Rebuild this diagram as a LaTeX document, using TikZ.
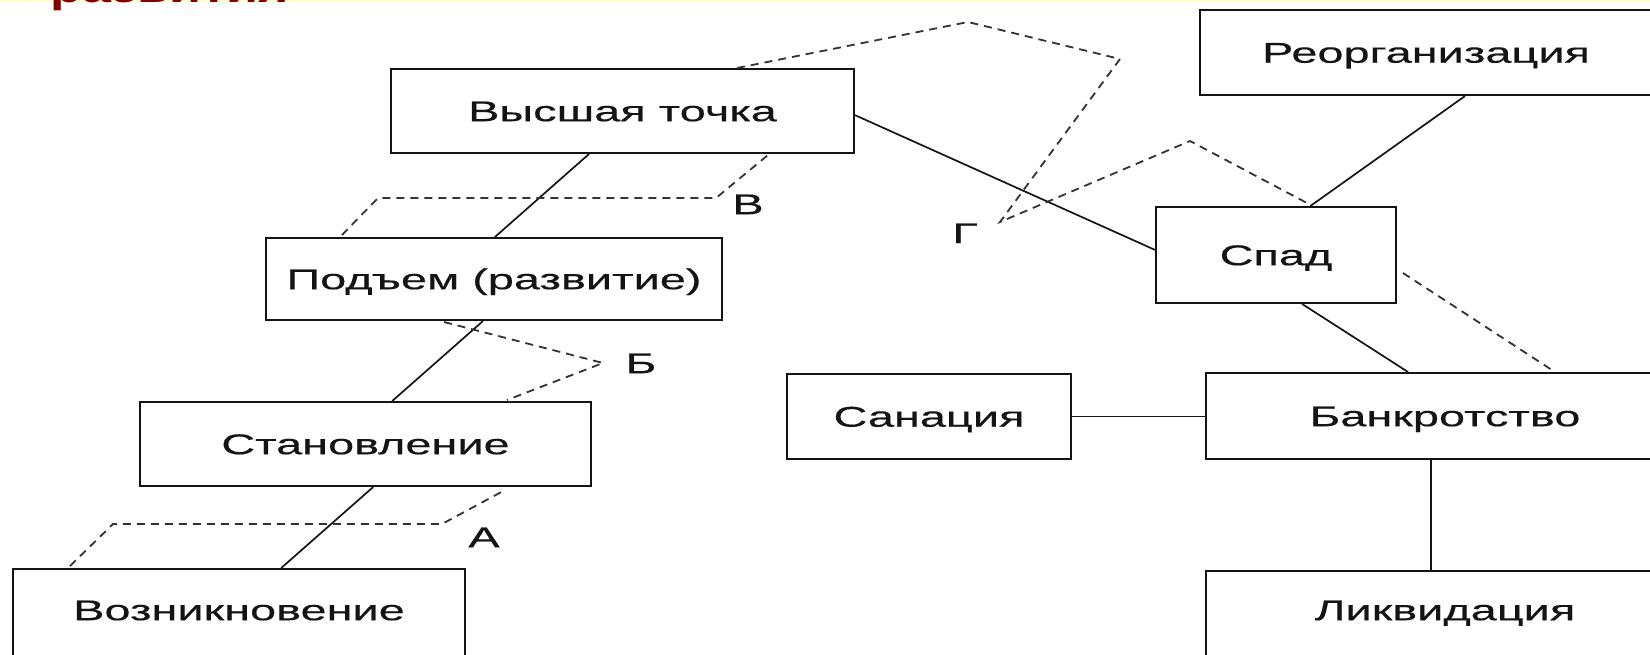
\documentclass[tikz,border=0pt]{standalone}
\usepackage{fontspec}
\setmainfont[FakeStretch=1.64,FakeBold=0.4]{Liberation Sans}
\newfontfamily\titlefont[FakeStretch=1.3]{Liberation Sans}
\usetikzlibrary{calc}
\definecolor{txt}{rgb}{0.08,0.08,0.08}
\definecolor{dash}{rgb}{0.2,0.2,0.2}
\definecolor{titlered}{rgb}{0.5,0,0}
\definecolor{band}{rgb}{1,1,0.8}
\tikzset{
  box/.style={draw=txt, line width=1pt, inner sep=0pt, text=txt,
    font=\fontsize{14.3pt}{17pt}\selectfont, text height=10.2pt, text depth=0pt},
  lbl/.style={inner sep=0pt, text=txt, font=\fontsize{14.3pt}{17pt}\selectfont,
    text height=10.2pt, text depth=0pt},
  link/.style={draw=txt, line width=0.85pt},
  dashlink/.style={draw=dash, line width=0.9pt, dash pattern=on 4pt off 3pt}
}
\begin{document}
\begin{tikzpicture}[x=0.5pt,y=-0.5pt]
\useasboundingbox (0,0) rectangle (1650,654);
\clip (0,0) rectangle (1650,654);
\fill[white] (0,0) rectangle (1650,654);
\fill[band] (0,0) rectangle (1650,2);
\node[anchor=base west, inner sep=0pt, text=titlered,
  font=\titlefont\bfseries\fontsize{20pt}{24pt}\selectfont] (title) at (50,2) {развития};

% boxes
\node[box, minimum width=231.5pt, minimum height=42pt] (top) at (622.5,111) {Высшая точка};
\node[box, minimum width=228pt, minimum height=41pt] (rise) at (494,279) {Подъем (развитие)};
\node[box, minimum width=225.5pt, minimum height=42pt] (form) at (365.5,444) {Становление};
\node[box, minimum width=226pt, minimum height=45.5pt] (birth) at (239,614.5) {\raisebox{2.25pt}{Возникновение}};
\node[box, minimum width=226pt, minimum height=42.5pt] (reorg) at (1426,52.5) {Реорганизация};
\node[box, minimum width=120pt, minimum height=48pt] (spad) at (1276,255) {Спад};
\node[box, minimum width=142pt, minimum height=42.5pt] (san) at (929,416.5) {Санация};
\node[box, minimum width=239pt, minimum height=43pt] (bank) at (1445,416) {Банкротство};
\node[box, minimum width=239pt, minimum height=47pt] (liq) at (1445,618) {\raisebox{4pt}{Ликвидация}};

% solid connectors
\draw[link] ($(top.south west)!0.428!(top.south east)$) -- ($(rise.north west)!0.502!(rise.north east)$);
\draw[link] ($(rise.south west)!0.476!(rise.south east)$) -- ($(form.north west)!0.559!(form.north east)$);
\draw[link] ($(form.south west)!0.517!(form.south east)$) -- ($(birth.north west)!0.593!(birth.north east)$);
\draw[link] ($(top.north east)!0.548!(top.south east)$) -- ($(spad.north west)!0.448!(spad.south west)$);
\draw[link] ($(reorg.south west)!0.586!(reorg.south east)$) -- ($(spad.north west)!0.642!(spad.north east)$);
\draw[link] ($(spad.south west)!0.608!(spad.south east)$) -- ($(bank.north west)!0.423!(bank.north east)$);
\draw[link] (san.east) -- (san.east -| bank.west);
\draw[link] ($(bank.south west)!0.471!(bank.south east)$) -- ($(liq.north west)!0.471!(liq.north east)$);

% dashed stage outlines
\coordinate (a1) at (70,566);
\coordinate (a2) at (113,524);
\coordinate (a3) at (442,524);
\coordinate (a4) at (505,490);
\draw[dashlink] (a1) -- (a2) -- (a3) -- (a4);
\coordinate (b1) at (444,322);
\coordinate (b2) at (603,363);
\coordinate (b3) at (507,400);
\draw[dashlink] (b1) -- (b2) -- (b3);
\coordinate (c1) at (342,235);
\coordinate (c2) at (378,198);
\coordinate (c3) at (716,198);
\coordinate (c4) at (768,155);
\draw[dashlink] (c1) -- (c2) -- (c3) -- (c4);
\coordinate (g1) at (737,68);
\coordinate (g2) at (968,22);
\coordinate (g3) at (1120,59);
\coordinate (g4) at (1000,222);
\coordinate (g5) at (1190,141);
\coordinate (g6) at (1307,203);
\draw[dashlink] (g1) -- (g2) -- (g3) -- (g4) -- (g5) -- (g6);
\coordinate (d1) at (1403,273);
\coordinate (d2) at (1555,372);
\draw[dashlink] (d1) -- (d2);

% labels
\node[lbl] (la) at (484,537) {А};
\node[lbl] (lb) at (641,363) {Б};
\node[lbl] (lv) at (748,204) {В};
\node[lbl] (lg) at (965,233) {Г};
\end{tikzpicture}
\end{document}
